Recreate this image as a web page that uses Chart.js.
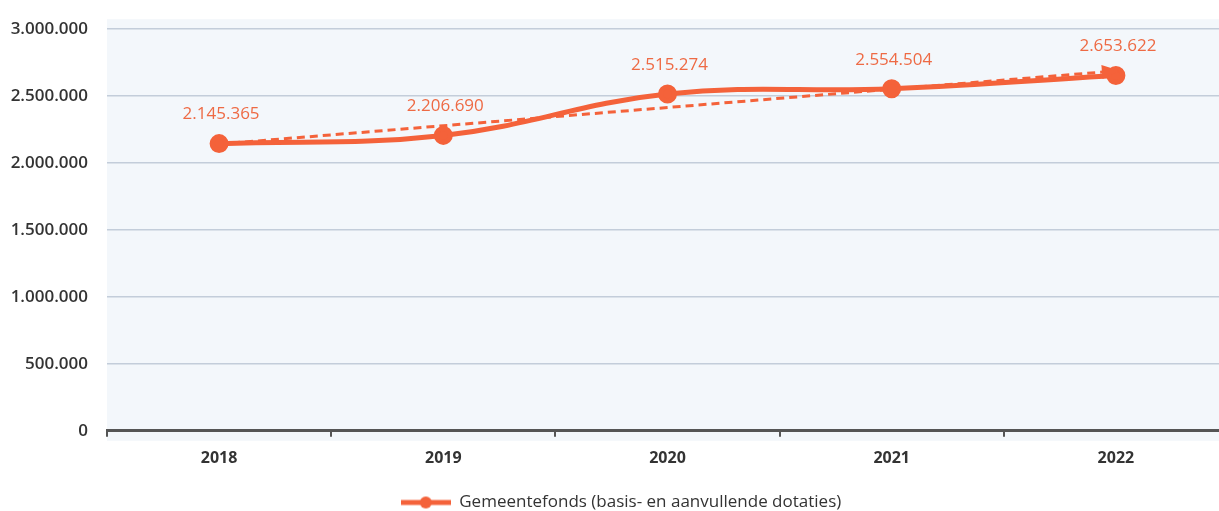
<!DOCTYPE html>
<html>
<head>
<meta charset="utf-8">
<script src="https://cdn.jsdelivr.net/npm/chart.js@4.4.0/dist/chart.umd.min.js"></script>
<style>
  html, body { margin: 0; padding: 0; background: #fff; overflow: hidden; }
</style>
</head>
<body>
<canvas id="chart" width="1240" height="521"></canvas>
<script>
const years = ['2018', '2019', '2020', '2021', '2022'];
const gemeentefonds = [2145365, 2206690, 2515274, 2554504, 2653622];
// trendlijn
const trend = [2142000, 2279000, 2415000, 2552000, 2688000];
const yTicks = [0, 500000, 1000000, 1500000, 2000000, 2500000, 3000000];

const ORANGE = '#f4623a';
const FONT = '"Open Sans", sans-serif';
const fmt = v => v.toLocaleString('nl-NL');

// legendamarker: lijn met bolletje
const marker = document.createElement('canvas');
marker.width = 50; marker.height = 14;
(() => {
  const c = marker.getContext('2d');
  c.strokeStyle = ORANGE; c.lineWidth = 5;
  c.beginPath(); c.moveTo(0, 7); c.lineTo(50, 7); c.stroke();
  c.fillStyle = ORANGE;
  c.beginPath(); c.arc(25, 7, 6, 0, Math.PI * 2); c.fill();
})();

const plotBg = {
  id: 'plotBg',
  beforeDraw(chart) {
    const { ctx, chartArea: a } = chart;
    ctx.save();
    ctx.fillStyle = '#f3f7fb';
    ctx.fillRect(a.left, a.top - 10, a.right - a.left, a.bottom - a.top + 20);
    ctx.restore();
  }
};

const labelsAndArrow = {
  id: 'labelsAndArrow',
  afterDatasetsDraw(chart) {
    const ctx = chart.ctx;
    // pijlpunt aan het einde van de trendlijn
    const tm = chart.getDatasetMeta(1).data;
    const p1 = tm[tm.length - 2], p2 = tm[tm.length - 1];
    const ang = Math.atan2(p2.y - p1.y, p2.x - p1.x);
    ctx.save();
    ctx.fillStyle = ORANGE;
    ctx.beginPath();
    ctx.moveTo(p2.x + 4 * Math.cos(ang), p2.y + 4 * Math.sin(ang));
    ctx.lineTo(p2.x - 14 * Math.cos(ang) + 7 * Math.sin(ang), p2.y - 14 * Math.sin(ang) - 7 * Math.cos(ang));
    ctx.lineTo(p2.x - 14 * Math.cos(ang) - 7 * Math.sin(ang), p2.y - 14 * Math.sin(ang) + 7 * Math.cos(ang));
    ctx.closePath();
    ctx.fill();
    // datalabels
    const meta = chart.getDatasetMeta(0).data;
    ctx.font = '17px ' + FONT;
    ctx.textAlign = 'center';
    ctx.textBaseline = 'middle';
    ctx.fillStyle = '#ee6a44';
    meta.forEach((pt, i) => {
      ctx.fillText(fmt(gemeentefonds[i]), pt.x + 2, pt.y - 29);
    });
    ctx.restore();
  }
};

new Chart(document.getElementById('chart'), {
  type: 'line',
  data: {
    labels: years,
    datasets: [
      {
        label: 'Gemeentefonds (basis- en aanvullende dotaties)',
        data: gemeentefonds,
        borderColor: ORANGE,
        backgroundColor: ORANGE,
        borderWidth: 5,
        tension: 0.4,
        pointRadius: 7,
        pointHoverRadius: 7,
        pointStyle: 'circle',
        pointBackgroundColor: ORANGE,
        pointBorderColor: ORANGE,
        order: 1
      },
      {
        label: 'trend',
        data: trend,
        borderColor: ORANGE,
        borderWidth: 3,
        borderDash: [8, 5],
        pointRadius: 0,
        tension: 0,
        fill: false,
        order: 2
      }
    ]
  },
  options: {
    responsive: false,
    animation: false,
    layout: { padding: { top: -3, left: 2, right: 0, bottom: 0 } },
    plugins: {
      legend: {
        position: 'bottom',
        labels: {
          generateLabels: chart => [{
            text: chart.data.datasets[0].label,
            pointStyle: marker,
            fontColor: '#333',
            datasetIndex: 0,
            lineWidth: 0,
            strokeStyle: 'transparent',
            fillStyle: ORANGE
          }],
          color: '#333',
          font: { family: FONT, size: 17 },
          usePointStyle: true,
          pointStyleWidth: 50,
          boxHeight: 14,
          padding: 14
        }
      },
      tooltip: { enabled: false }
    },
    scales: {
      x: {
        offset: true,
        grid: { display: true, drawOnChartArea: false, offset: true, color: '#555', lineWidth: 2, tickLength: 6 },
        border: { color: '#555', width: 3 },
        ticks: { color: '#333', font: { family: FONT, size: 16, weight: 'bold' }, padding: 12 }
      },
      y: {
        min: 0,
        max: 3000000,
        afterBuildTicks: axis => { axis.ticks = yTicks.map(v => ({ value: v })); },
        afterFit: axis => { axis.width = 105; },
        grid: { color: '#c3cdda', lineWidth: 1.5, drawTicks: false },
        border: { display: false },
        ticks: {
          color: '#333',
          padding: 19,
          font: { family: FONT, size: 17, weight: '600' },
          callback: v => fmt(v)
        }
      }
    }
  },
  plugins: [plotBg, labelsAndArrow]
});
</script>
</body>
</html>
